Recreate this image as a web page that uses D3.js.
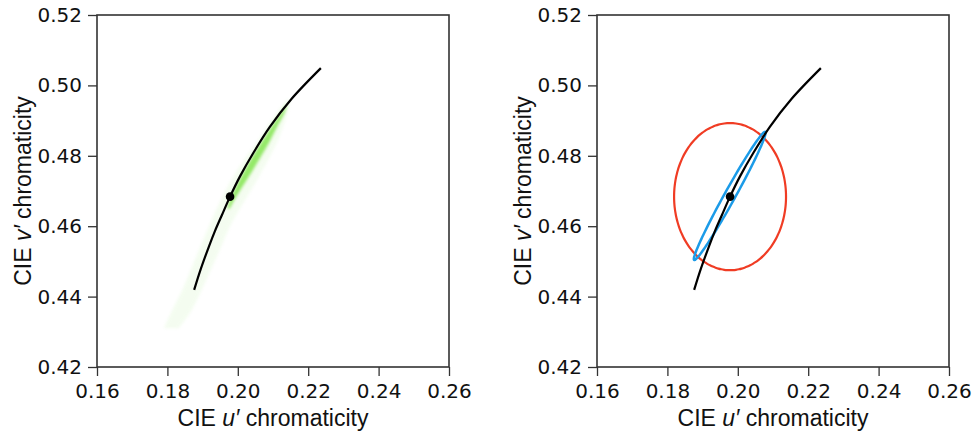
<!DOCTYPE html>
<html>
<head>
<meta charset="utf-8">
<script src="https://cdn.jsdelivr.net/npm/d3@7"></script>
<style>
  body { margin: 0; background: #fff; }
  .tick text { font-family: "DejaVu Sans", sans-serif; font-size: 20px; fill: #111; }
  .lbl { font-family: "Liberation Sans", Arial, sans-serif; font-size: 23px; fill: #111; }
</style>
</head>
<body>
<svg id="chart" width="977" height="441"></svg>
<script>
// axis ticks
const uTicks = [0.16, 0.18, 0.20, 0.22, 0.24, 0.26];
const vTicks = [0.42, 0.44, 0.46, 0.48, 0.50, 0.52];

// daylight locus (black curve)
const locusU = [0.2236, 0.2153, 0.2091, 0.2044, 0.2007, 0.1978, 0.1955, 0.1935, 0.1919, 0.1894, 0.1876];
const locusV = [0.5049, 0.4962, 0.4882, 0.4808, 0.4743, 0.4684, 0.4632, 0.4586, 0.4545, 0.4476, 0.4419];

// white point
const whiteU = 0.1978, whiteV = 0.4684;

// green cloud, left panel: faint halo and bright core (left / right edges at each v')
const haloV  = [0.496, 0.490, 0.484, 0.478, 0.472, 0.466, 0.460, 0.454, 0.448, 0.442, 0.436, 0.431];
const haloUL = [0.2140, 0.2095, 0.2055, 0.2012, 0.1975, 0.1945, 0.1918, 0.1893, 0.1868, 0.1843, 0.1813, 0.1790];
const haloUR = [0.2150, 0.2135, 0.2112, 0.2082, 0.2048, 0.2012, 0.1978, 0.1952, 0.1925, 0.1898, 0.1868, 0.1832];
const coreV  = [0.4945, 0.492, 0.488, 0.484, 0.480, 0.476, 0.472, 0.468, 0.465];
const coreUL = [0.2138, 0.2122, 0.2094, 0.2068, 0.2043, 0.2020, 0.1999, 0.1980, 0.1970];
const coreUR = [0.2140, 0.2132, 0.2110, 0.2090, 0.2067, 0.2043, 0.2018, 0.1993, 0.1977];

// right panel ellipses: [centre u, centre v, semi-axis a (u,v), semi-axis b (u,v)]
const redEllipse  = [0.1978, 0.4684, [0.0159, 0], [0, 0.0209]];
const blueEllipse = [0.1977, 0.4686, [0.0101, 0.0182], [-0.00135, 0.00075]];

const size = 352, marginTop = 15;
const svg = d3.select("#chart");

svg.append("defs").append("filter").attr("id", "soft")
  .attr("x", "-50%").attr("y", "-50%").attr("width", "200%").attr("height", "200%")
  .append("feGaussianBlur").attr("stdDeviation", 1.6);

function panel(left, extra) {
  const g = svg.append("g").attr("transform", "translate(" + left + "," + marginTop + ")");
  const x = d3.scaleLinear().domain([0.16, 0.26]).range([0, size]);
  const y = d3.scaleLinear().domain([0.42, 0.52]).range([size, 0]);

  const xAxis = g.append("g").attr("transform", "translate(0," + size + ")")
    .call(d3.axisBottom(x).tickValues(uTicks).tickSize(9).tickPadding(8).tickFormat(d3.format(".2f")));
  const yAxis = g.append("g")
    .call(d3.axisLeft(y).tickValues(vTicks).tickSize(9).tickPadding(6).tickFormat(d3.format(".2f")));
  [xAxis, yAxis].forEach(a => {
    a.select(".domain").remove();
    a.selectAll(".tick line").attr("stroke", "#333").attr("stroke-width", 1.3);
  });

  g.append("rect").attr("width", size).attr("height", size)
    .attr("fill", "none").attr("stroke", "#333").attr("stroke-width", 1.6);

  extra(g, x, y);

  const locus = d3.line().curve(d3.curveCatmullRom)
    .x((d, i) => x(locusU[i])).y((d, i) => y(locusV[i]));
  g.append("path").attr("d", locus(locusU))
    .attr("fill", "none").attr("stroke", "#000").attr("stroke-width", 2.2);

  g.append("circle").attr("cx", x(whiteU)).attr("cy", y(whiteV)).attr("r", 4.3).attr("fill", "#000");

  const xl = g.append("text").attr("class", "lbl").attr("text-anchor", "middle")
    .attr("x", size / 2).attr("y", 411);
  xl.append("tspan").text("CIE ");
  xl.append("tspan").attr("font-style", "italic").text("u′");
  xl.append("tspan").text(" chromaticity");

  const yl = g.append("text").attr("class", "lbl").attr("text-anchor", "middle")
    .attr("transform", "translate(-66," + size / 2 + ") rotate(-90)");
  yl.append("tspan").text("CIE ");
  yl.append("tspan").attr("font-style", "italic").text("v′");
  yl.append("tspan").text(" chromaticity");
}

function drawCloud(g, x, y) {
  const band = (vs, ul, ur) => d3.area().curve(d3.curveCatmullRom)
    .y((d, i) => y(vs[i])).x0((d, i) => x(ul[i])).x1((d, i) => x(ur[i]))(vs);
  g.append("path").attr("d", band(haloV, haloUL, haloUR))
    .attr("fill", "#a8ec88").attr("opacity", 0.12).attr("filter", "url(#soft)");
  g.append("path").attr("d", band(coreV, coreUL, coreUR))
    .attr("fill", "#7ce445").attr("opacity", 0.8).attr("filter", "url(#soft)");
}

function drawEllipses(g, x, y) {
  const ring = (e) => {
    const pts = d3.range(0, 360, 3).map(t => {
      const r = t * Math.PI / 180, c = Math.cos(r), s = Math.sin(r);
      return [x(e[0] + e[2][0] * c + e[3][0] * s), y(e[1] + e[2][1] * c + e[3][1] * s)];
    });
    return d3.line().curve(d3.curveCardinalClosed)(pts);
  };
  g.append("path").attr("d", ring(redEllipse))
    .attr("fill", "none").attr("stroke", "#f03c24").attr("stroke-width", 2.2);
  g.append("path").attr("d", ring(blueEllipse))
    .attr("fill", "none").attr("stroke", "#1b9be8").attr("stroke-width", 2.5);
}

panel(97, drawCloud);
panel(597, drawEllipses);
</script>
</body>
</html>
